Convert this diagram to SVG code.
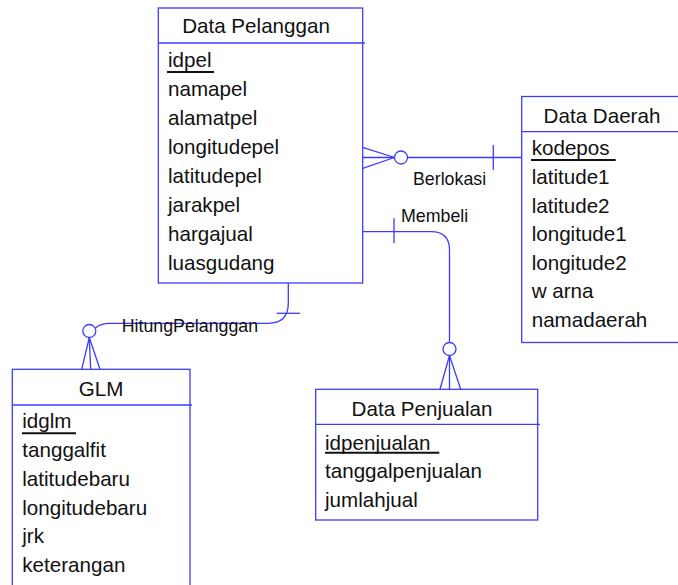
<svg xmlns="http://www.w3.org/2000/svg" width="678" height="585" viewBox="0 0 678 585">
<style>
.box{fill:#fff;stroke:#3c3cff;stroke-width:1.3}
.ln{fill:none;stroke:#3c3cff;stroke-width:1.3}
.t{font-family:"Liberation Sans",Arial,sans-serif;font-size:20.6px;fill:#111}
.tt{font-family:"Liberation Sans",Arial,sans-serif;font-size:20.6px;fill:#111;text-anchor:middle}
.lb{font-family:"Liberation Sans",Arial,sans-serif;font-size:17.8px;fill:#111}
.u{stroke:#111;stroke-width:2}
</style>
<rect width="678" height="585" fill="#fff"/>
<g id="connectors">
  <line class="ln" x1="362.7" y1="157.5" x2="521.7" y2="157.5"/>
  <line class="ln" x1="362.7" y1="147.3" x2="394.5" y2="157.5"/>
  <line class="ln" x1="362.7" y1="168.3" x2="394.5" y2="157.5"/>
  <circle class="ln" cx="401" cy="157.5" r="6.5" style="fill:#fff"/>
  <line class="ln" x1="493.3" y1="145" x2="493.3" y2="170"/>
  <path class="ln" d="M362.7,231.7 H431 Q449.5,231.7 449.5,250 V342.5"/>
  <line class="ln" x1="394" y1="218.3" x2="394" y2="243.3"/>
  <circle class="ln" cx="449.5" cy="349" r="6.5" style="fill:#fff"/>
  <line class="ln" x1="449.5" y1="355.5" x2="440" y2="389.3"/>
  <line class="ln" x1="449.5" y1="355.5" x2="449.5" y2="389.3"/>
  <line class="ln" x1="449.5" y1="355.5" x2="460.7" y2="389.3"/>
  <path class="ln" d="M288.3,283 V303 Q288.3,323.3 268,323.3 H110 Q100,323.3 95.5,328"/>
  <line class="ln" x1="276.7" y1="313.3" x2="300" y2="313.3"/>
  <circle class="ln" cx="89.3" cy="331" r="6.5" style="fill:#fff"/>
  <line class="ln" x1="89.3" y1="337.5" x2="81.7" y2="369.3"/>
  <line class="ln" x1="89.3" y1="337.5" x2="90.7" y2="369.3"/>
  <line class="ln" x1="89.3" y1="337.5" x2="100" y2="369.3"/>
  <text class="lb" x="413" y="185">Berlokasi</text>
  <text class="lb" x="401" y="222">Membeli</text>
  <text class="lb" x="121.7" y="331.5">HitungPelanggan</text>
</g>
<g id="data-pelanggan">
  <rect class="box" x="158.3" y="8" width="204.4" height="275"/>
  <line class="ln" x1="158.3" y1="43" x2="365" y2="43"/>
  <text class="tt" x="256" y="33">Data Pelanggan</text>
  <text class="t" x="168" y="67">idpel</text>
  <line class="u" x1="167" y1="72" x2="214" y2="72"/>
  <text class="t" x="168" y="96">namapel</text>
  <text class="t" x="168" y="125">alamatpel</text>
  <text class="t" x="168" y="154">longitudepel</text>
  <text class="t" x="168" y="183">latitudepel</text>
  <text class="t" x="168" y="212">jarakpel</text>
  <text class="t" x="168" y="241">hargajual</text>
  <text class="t" x="168" y="270">luasgudang</text>
</g>
<g id="data-daerah">
  <rect class="box" x="521.7" y="96.5" width="170" height="246"/>
  <line class="ln" x1="521.7" y1="131.7" x2="678" y2="131.7"/>
  <text class="tt" x="602" y="123">Data Daerah</text>
  <text class="t" x="531.7" y="155">kodepos</text>
  <line class="u" x1="531" y1="160" x2="615.7" y2="160"/>
  <text class="t" x="531.7" y="184">latitude1</text>
  <text class="t" x="531.7" y="213">latitude2</text>
  <text class="t" x="531.7" y="241">longitude1</text>
  <text class="t" x="531.7" y="270">longitude2</text>
  <text class="t" x="531.7" y="298">w arna</text>
  <text class="t" x="531.7" y="327">namadaerah</text>
</g>
<g id="data-penjualan">
  <rect class="box" x="315.7" y="389.3" width="222" height="130.7"/>
  <line class="ln" x1="315.7" y1="424.3" x2="540" y2="424.3"/>
  <text class="tt" x="422" y="416">Data Penjualan</text>
  <text class="t" x="325" y="450">idpenjualan</text>
  <line class="u" x1="325" y1="452.7" x2="439.3" y2="452.7"/>
  <text class="t" x="325" y="478">tanggalpenjualan</text>
  <text class="t" x="325" y="507">jumlahjual</text>
</g>
<g id="glm">
  <rect class="box" x="12.3" y="369.3" width="177.7" height="240"/>
  <line class="ln" x1="12.3" y1="405" x2="192" y2="405"/>
  <text class="tt" x="101" y="396">GLM</text>
  <text class="t" x="22.3" y="428.3">idglm</text>
  <line class="u" x1="22" y1="433.3" x2="76" y2="433.3"/>
  <text class="t" x="22.3" y="457.3">tanggalfit</text>
  <text class="t" x="22.3" y="486">latitudebaru</text>
  <text class="t" x="22.3" y="515">longitudebaru</text>
  <text class="t" x="22.3" y="543">jrk</text>
  <text class="t" x="22.3" y="572">keterangan</text>
</g>
</svg>
